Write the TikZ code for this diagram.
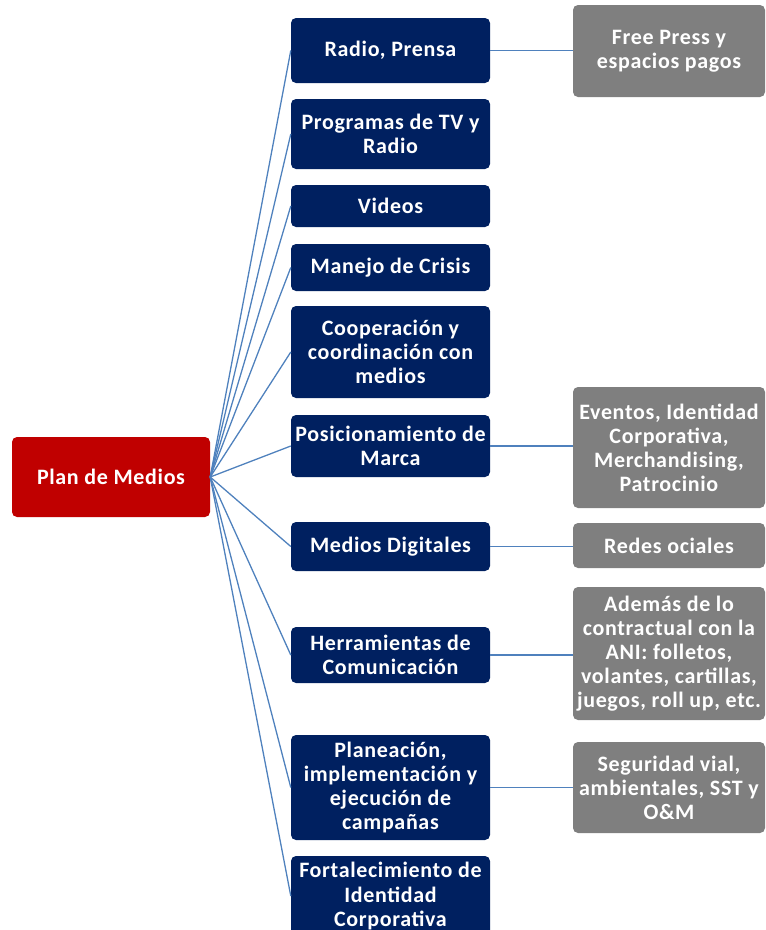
\documentclass[tikz,border=0pt]{standalone}
\usepackage{fontspec}
\setmainfont{Carlito}
\newfontfamily\boxfont[LetterSpace=3.0]{Carlito}
\definecolor{navy}{HTML}{002060}
\definecolor{rootred}{HTML}{C00000}
\definecolor{boxgray}{HTML}{7F7F7F}
\definecolor{linkblue}{RGB}{79,129,189}
\tikzset{
  basebox/.style={rectangle, rounded corners=5pt, inner sep=1pt, align=center,
    text=white, font=\boxfont\fontsize{22}{24}\selectfont\bfseries},
  rootbox/.style={basebox, fill=rootred, minimum width=198pt, minimum height=80pt},
  bluebox/.style={basebox, fill=navy, minimum width=199pt},
  graybox/.style={basebox, fill=boxgray, minimum width=192pt},
  link/.style={draw=linkblue, line width=1.3pt}
}
\begin{document}
\begin{tikzpicture}[x=1pt,y=-1pt]
\useasboundingbox (0,0) rectangle (766,930);
\clip (0,0) rectangle (766,930);
\node[rootbox] (root) at (111,477) {Plan de Medios};
\node[bluebox, minimum height=65pt] (b1) at (390.5,50.5) {Radio, Prensa};
\node[bluebox, minimum height=70pt] (b2) at (390.5,134) {Programas de TV y\\Radio};
\node[bluebox, minimum height=42pt] (b3) at (390.5,206) {Videos};
\node[bluebox, minimum height=47pt] (b4) at (390.5,267.5) {Manejo de Crisis};
\node[bluebox, minimum height=92pt] (b5) at (390.5,352) {Cooperación y\\coordinación con\\medios};
\node[bluebox, minimum height=62pt] (b6) at (390.5,446) {Posicionamiento de\\Marca};
\node[bluebox, minimum height=49pt] (b7) at (390.5,546.5) {Medios Digitales};
\node[bluebox, minimum height=56pt] (b8) at (390.5,655) {Herramientas de\\Comunicación};
\node[bluebox, minimum height=105pt] (b9) at (390.5,787.5) {Planeación,\\implementación y\\ejecución de\\campañas};
\node[bluebox, minimum height=80pt] (b10) at (390.5,896) {Fortalecimiento de\\Identidad\\Corporativa};
\node[graybox, minimum height=92pt] (g1) at (669,51) {Free Press y\\espacios pagos};
\node[graybox, minimum height=121pt] (g6) at (669,447.5) {Eventos, Identidad\\Corporativa,\\Merchandising,\\Patrocinio};
\node[graybox, minimum height=45pt] (g7) at (669,545.5) {Redes ociales};
\node[graybox, minimum height=133pt] (g8) at (669,653.5) {Además de lo\\contractual con la\\ANI: folletos,\\volantes, cartillas,\\juegos, roll up, etc.};
\node[graybox, minimum height=91pt] (g9) at (669,787.5) {Seguridad vial,\\ambientales, SST y\\O\&M};
\foreach \b in {b1,b2,b3,b4,b5,b6,b7,b8,b9,b10}
  \draw[link] (root.east) -- (\b.west);
\draw[link] (b1.east) -- (b1.east -| g1.west);
\draw[link] (b6.east) -- (b6.east -| g6.west);
\draw[link] (b7.east) -- (b7.east -| g7.west);
\draw[link] (b8.east) -- (b8.east -| g8.west);
\draw[link] (b9.east) -- (b9.east -| g9.west);
\end{tikzpicture}
\end{document}
